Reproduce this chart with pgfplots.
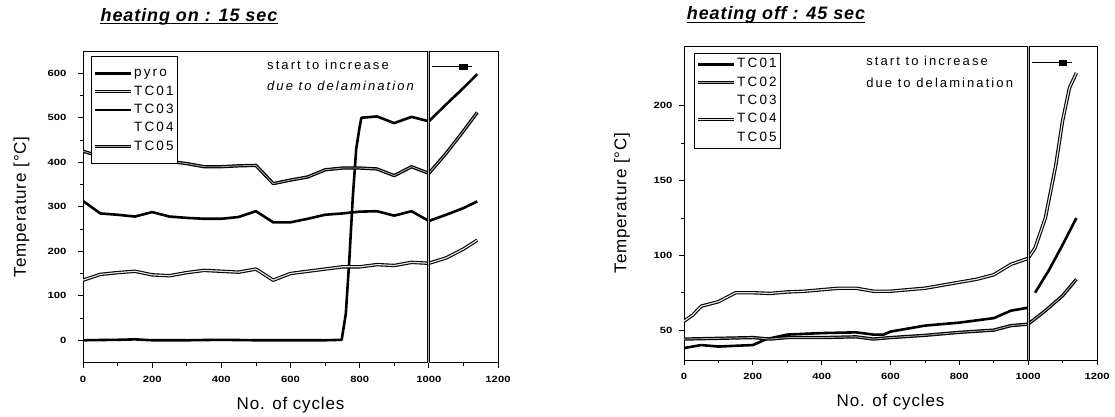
\documentclass[border=0pt]{standalone}
\usepackage{pgfplots}
\pgfplotsset{compat=1.18}
\usepackage{fontspec}
\setmainfont{Liberation Sans}
\newfontfamily\spaced[LetterSpace=16]{Liberation Sans}
\newfontfamily\labfont[LetterSpace=5]{Liberation Sans}
\newfontfamily\tickfont[FakeStretch=1.25]{Liberation Sans Bold}
\newfontfamily\titlefont[LetterSpace=5]{Liberation Sans Bold Italic}

\tikzset{
  blk/.style={draw=black, line width=2.6pt, line join=round},
  hol/.style={draw=black, line width=1.1pt, double=gray!20, double distance=1.2pt, line join=round},
  gry/.style={draw=black, line width=1.2pt, double=gray!70, double distance=0.9pt, line join=round},
  vline/.style={draw=black, line width=0.8pt, double=gray!55, double distance=1.2pt},
}

\pgfplotsset{
  panel/.style={
    scale only axis, xmin=0, xmax=1200, xtick={0,200,...,1200},
    minor x tick num=1, minor y tick num=1,
    tick align=outside, xtick pos=left, ytick pos=left,
    major tick length=5pt, minor tick length=3pt,
    every tick/.style={black, line width=0.8pt},
    axis line style={line width=0.8pt},
    /pgf/number format/assume math mode=true,
    /pgf/number format/1000 sep={},
    tick label style={font=\tickfont\fontsize{9}{10}\selectfont},
    xticklabel style={yshift=-5pt},
    label style={font=\labfont\fontsize{17}{19}\selectfont},
    xlabel={No. of cycles}, ylabel={Temperature [°C]},
    legend cell align=left,
    legend image code/.code={\draw[##1] (0pt,0pt) -- (36pt,0pt);},
    legend style={draw=black, line width=0.8pt, anchor=north west,
      font=\spaced\fontsize{13.5}{14}\selectfont,
      inner xsep=2pt, row sep=6.3pt,
      nodes={inner xsep=1.5pt, inner ysep=0pt, text height=9.5pt, text depth=2.5pt}},
  },
}

\begin{document}
\begin{tikzpicture}
\useasboundingbox (0,0) rectangle (1115pt,416pt);

% heating on
\begin{axis}[panel, at={(83pt,53.5pt)}, anchor=south west,
  width=415pt, height=311.5pt,
  ymin=-50, ymax=650, ytick={0,100,...,600},
  yticklabel style={xshift=-8pt},
  xlabel style={at={(axis description cs:0.5,-0.136)}, anchor=center},
  ylabel style={at={(axis description cs:-0.148,0.5)}, anchor=center},
  legend style={at={(axis description cs:0.019,0.984)}, inner ysep=11pt}]
\addplot[blk] coordinates {
  (0,0) (100,1) (150,2) (200,0) (300,0) (400,1) (500,0) (600,0) (700,0)
  (748,1) (760,60) (770,180) (780,320) (790,430) (800,480) (805,500)
  (850,503) (900,488) (950,502) (1000,492) (1050,530) (1100,567) (1140,598)};
\addlegendentry{pyro}
\addplot[hol] coordinates {
  (0,135) (50,148) (100,152) (150,155) (200,147) (250,145) (300,152)
  (350,157) (400,155) (450,153) (500,160) (550,135) (600,150) (650,155)
  (700,160) (750,165) (800,165) (850,170) (900,168) (950,175) (1000,173)
  (1050,185) (1100,205) (1140,225)};
\addlegendentry{TC01}
\addplot[blk] coordinates {
  (0,313) (50,285) (100,282) (150,278) (200,288) (250,278) (300,275)
  (350,273) (400,273) (450,277) (500,290) (550,265) (600,265) (650,273)
  (700,282) (750,285) (800,289) (850,290) (900,280) (950,290) (1000,268)
  (1050,282) (1100,297) (1140,312)};
\addlegendentry{TC03}
\addlegendimage{draw opacity=0}
\addlegendentry{TC04}
\addplot[gry] coordinates {
  (0,425) (20,420) (100,415) (200,408) (270,400) (300,397) (350,390)
  (400,390) (450,392) (500,393) (550,352) (600,360) (650,367) (700,383)
  (750,387) (800,387) (850,385) (900,370) (950,390) (1000,375)
  (1050,420) (1100,470) (1140,512)};
\addlegendentry{TC05}
\addplot[vline, forget plot] coordinates {(1000,-50) (1000,650)};
\addplot[black, line width=1.4pt, forget plot] coordinates {(1009,615) (1124,615)};
\addplot[only marks, mark=square*, mark size=2.3pt, mark options={xscale=1.6}, forget plot]
  coordinates {(1099,615)};
\node[anchor=west, inner sep=0pt, font=\spaced\fontsize{13}{14}\selectfont]
  at (axis cs:532,618) {start to increase};
\node[anchor=west, inner sep=0pt, font=\spaced\fontsize{13}{14}\selectfont\itshape]
  at (axis cs:532,571) {due to delamination};
\end{axis}

% heating off
\begin{axis}[panel, at={(684pt,56pt)}, anchor=south west,
  width=413pt, height=314pt,
  ymin=30, ymax=240, ytick={50,100,150,200},
  yticklabel style={xshift=-3pt},
  xlabel style={at={(axis description cs:0.5,-0.133)}, anchor=center},
  ylabel style={at={(axis description cs:-0.150,0.5)}, anchor=center},
  legend style={at={(axis description cs:0.024,0.978)}, inner ysep=5pt},
  unbounded coords=jump]
\addplot[blk] coordinates {
  (0,38) (50,40) (100,39) (200,40) (240,44) (300,47) (400,48) (500,48.5)
  (550,47) (580,47) (600,49) (700,53) (800,55) (900,58) (950,63) (1000,65)
  (1010,nan) (1020,75) (1060,90) (1100,107) (1140,125)};
\addlegendentry{TC01}
\addplot[gry] coordinates {
  (0,44) (100,44.5) (200,45) (250,44) (300,45) (400,45) (500,45.5)
  (550,44) (600,45) (700,46.5) (800,48.5) (900,50) (950,53) (1000,54)
  (1050,63) (1100,73) (1140,84)};
\addlegendentry{TC02}
\addlegendimage{draw opacity=0}
\addlegendentry{TC03}
\addplot[hol] coordinates {
  (0,56) (25,60) (50,66) (100,69) (150,75) (200,75) (250,74.5) (300,75.5)
  (350,76) (400,77) (450,78) (500,78) (550,76) (600,76) (650,77) (700,78)
  (750,80) (800,82) (850,84) (900,87) (950,94) (1000,98) (1020,105)
  (1050,125) (1080,160) (1100,190) (1120,212) (1140,222)};
\addlegendentry{TC04}
\addlegendimage{draw opacity=0}
\addlegendentry{TC05}
\addplot[vline, forget plot] coordinates {(1000,30) (1000,240)};
\addplot[black, line width=1.4pt, forget plot] coordinates {(1011,229) (1127,229)};
\addplot[only marks, mark=square*, mark size=2.3pt, mark options={xscale=1.6}, forget plot]
  coordinates {(1101,229)};
\node[anchor=west, inner sep=0pt, font=\spaced\fontsize{13}{14}\selectfont]
  at (axis cs:529,230) {start to increase};
\node[anchor=west, inner sep=0pt, font=\spaced\fontsize{13}{14}\selectfont]
  at (axis cs:529,215.3) {due to delamination};
\end{axis}

% titles
\node[inner sep=0pt, font=\titlefont\fontsize{18}{20}\selectfont] (t1) at (189pt,399.3pt) {heating on : 15 sec};
\draw[line width=1.1pt] ([yshift=-2.5pt]t1.base west) -- ([yshift=-2.5pt]t1.base east);
\node[inner sep=0pt, font=\titlefont\fontsize{18}{20}\selectfont] (t2) at (776pt,401pt) {heating off : 45 sec};
\draw[line width=1.1pt] ([yshift=-2.5pt]t2.base west) -- ([yshift=-2.5pt]t2.base east);
\end{tikzpicture}
\end{document}
